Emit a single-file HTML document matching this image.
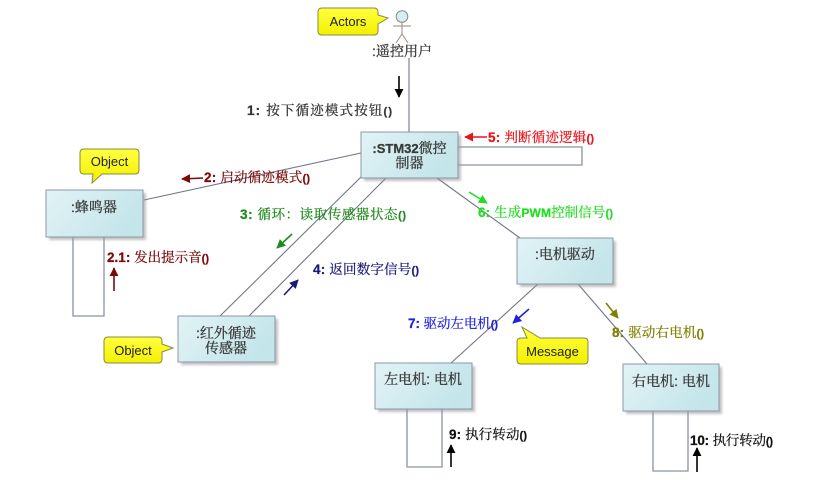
<!DOCTYPE html>
<html><head><meta charset="utf-8"><style>
html,body{margin:0;padding:0;background:#fff;}
svg{display:block;}
text{font-family:"Liberation Sans","Noto Serif CJK SC","Noto Serif SC","Source Han Serif SC","AR PL UMing CN","Noto Sans CJK SC",serif;}
.bx{font-size:14px;fill:#3a3a3a;stroke:#3a3a3a;stroke-width:0.3;}
.lb{font-size:13.5px;stroke-width:0.25;}
.co{font-family:"Liberation Sans",sans-serif;font-size:13px;fill:#222;}
</style></head><body>
<svg width="828" height="484" viewBox="0 0 828 484" xmlns="http://www.w3.org/2000/svg">
<defs>
<linearGradient id="g" x1="0" y1="0" x2="1" y2="0.4">
<stop offset="0" stop-color="#e2f3f6"/><stop offset="1" stop-color="#c4e5ea"/>
</linearGradient>
<linearGradient id="y" x1="0" y1="0" x2="0" y2="1">
<stop offset="0" stop-color="#ffff40"/><stop offset="1" stop-color="#f4f000"/>
</linearGradient>
<filter id="sh" x="-10%" y="-10%" width="130%" height="140%"><feGaussianBlur stdDeviation="1.2"/></filter>
<marker id="mk" viewBox="0 0 10 10" refX="9" refY="5" markerUnits="userSpaceOnUse" markerWidth="9" markerHeight="10" orient="auto"><path d="M0,0L10,5L0,10z" fill="#000"/></marker>
<marker id="mr" viewBox="0 0 10 10" refX="9" refY="5" markerUnits="userSpaceOnUse" markerWidth="9" markerHeight="10" orient="auto"><path d="M0,0L10,5L0,10z" fill="#e8141c"/></marker>
<marker id="md" viewBox="0 0 10 10" refX="9" refY="5" markerUnits="userSpaceOnUse" markerWidth="9" markerHeight="10" orient="auto"><path d="M0,0L10,5L0,10z" fill="#7a0a0a"/></marker>
<marker id="mg" viewBox="0 0 10 10" refX="9" refY="5" markerUnits="userSpaceOnUse" markerWidth="9" markerHeight="10" orient="auto"><path d="M0,0L10,5L0,10z" fill="#1f8a1f"/></marker>
<marker id="mn" viewBox="0 0 10 10" refX="9" refY="5" markerUnits="userSpaceOnUse" markerWidth="9" markerHeight="10" orient="auto"><path d="M0,0L10,5L0,10z" fill="#1a1a78"/></marker>
<marker id="ml" viewBox="0 0 10 10" refX="9" refY="5" markerUnits="userSpaceOnUse" markerWidth="9" markerHeight="10" orient="auto"><path d="M0,0L10,5L0,10z" fill="#22dd22"/></marker>
<marker id="mb" viewBox="0 0 10 10" refX="9" refY="5" markerUnits="userSpaceOnUse" markerWidth="9" markerHeight="10" orient="auto"><path d="M0,0L10,5L0,10z" fill="#2222dd"/></marker>
<marker id="mo" viewBox="0 0 10 10" refX="9" refY="5" markerUnits="userSpaceOnUse" markerWidth="9" markerHeight="10" orient="auto"><path d="M0,0L10,5L0,10z" fill="#808000"/></marker>
</defs>

<!-- connectors -->
<g stroke="#707688" stroke-width="1.1" fill="none">
<line x1="409" y1="58" x2="409" y2="132"/>
<line x1="144" y1="200" x2="361" y2="153"/>
<line x1="220" y1="316" x2="362" y2="176"/>
<line x1="249" y1="316" x2="386" y2="178"/>
<line x1="437" y1="178" x2="520" y2="238"/>
<line x1="538" y1="284" x2="451" y2="363"/>
<line x1="578" y1="284" x2="647" y2="364"/>
</g>
<!-- self loops -->
<g stroke="#8a92a6" stroke-width="1.3" fill="#fff">
<path d="M458,147 H582 V165 H458"/>
<path d="M73,237 V316 H104 V237"/>
<path d="M407,409 V467 H442 V409"/>
<path d="M653,411 V471 H688 V411"/>
</g>

<!-- boxes -->
<g>
<rect x="364" y="135" width="97" height="46" fill="#999" opacity="0.6" filter="url(#sh)"/>
<rect x="361" y="132" width="97" height="46" fill="url(#g)" stroke="#8c98a4"/>
<rect x="49" y="193" width="97" height="47" fill="#999" opacity="0.6" filter="url(#sh)"/>
<rect x="46" y="190" width="97" height="47" fill="url(#g)" stroke="#8c98a4"/>
<rect x="181" y="319" width="97" height="46" fill="#999" opacity="0.6" filter="url(#sh)"/>
<rect x="178" y="316" width="97" height="46" fill="url(#g)" stroke="#8c98a4"/>
<rect x="520" y="241" width="96" height="46" fill="#999" opacity="0.6" filter="url(#sh)"/>
<rect x="517" y="238" width="96" height="46" fill="url(#g)" stroke="#8c98a4"/>
<rect x="378" y="366" width="97" height="46" fill="#999" opacity="0.6" filter="url(#sh)"/>
<rect x="375" y="363" width="97" height="46" fill="url(#g)" stroke="#8c98a4"/>
<rect x="626" y="367" width="96" height="47" fill="#999" opacity="0.6" filter="url(#sh)"/>
<rect x="623" y="364" width="96" height="47" fill="url(#g)" stroke="#8c98a4"/>
</g>

<!-- box texts -->
<text class="bx" x="409.5" y="153" text-anchor="middle"><tspan font-weight="bold" font-size="13">:STM32</tspan>微控</text>
<text class="bx" x="409.5" y="168" text-anchor="middle">制器</text>
<text class="bx" x="94" y="212" text-anchor="middle">:蜂鸣器</text>
<text class="bx" x="226" y="338" text-anchor="middle">:红外循迹</text>
<text class="bx" x="226" y="353" text-anchor="middle">传感器</text>
<text class="bx" x="565" y="259" text-anchor="middle">:电机驱动</text>
<text class="bx" x="423" y="384" text-anchor="middle">左电机: 电机</text>
<text class="bx" x="671" y="386" text-anchor="middle">右电机: 电机</text>

<!-- actor -->
<g stroke="#9a8a80" stroke-width="1" fill="none">
<circle cx="402" cy="16.5" r="5.8" fill="#d6eef1" stroke="#888"/>
<line x1="402" y1="22.5" x2="402" y2="34"/>
<line x1="393" y1="26" x2="411" y2="26"/>
<line x1="402" y1="34" x2="396" y2="43"/>
<line x1="402" y1="34" x2="408" y2="43"/>
</g>
<text class="bx" x="402" y="56" text-anchor="middle" textLength="60">:遥控用户</text>

<!-- arrows -->
<g stroke-width="1.6" fill="none">
<line x1="399" y1="76" x2="399" y2="97" stroke="#000" marker-end="url(#mk)"/>
<line x1="487" y1="137" x2="465" y2="137" stroke="#e8141c" marker-end="url(#mr)"/>
<line x1="203" y1="178" x2="182" y2="179" stroke="#7a0a0a" marker-end="url(#md)"/>
<line x1="114" y1="291" x2="114" y2="268" stroke="#7a0a0a" marker-end="url(#md)"/>
<line x1="292" y1="234" x2="277" y2="248" stroke="#1f8a1f" marker-end="url(#mg)"/>
<line x1="284" y1="295" x2="298" y2="280" stroke="#1a1a78" marker-end="url(#mn)"/>
<line x1="469" y1="192" x2="487" y2="203" stroke="#22dd22" marker-end="url(#ml)"/>
<line x1="529" y1="309" x2="513" y2="323" stroke="#2222dd" marker-end="url(#mb)"/>
<line x1="606" y1="303" x2="618" y2="318" stroke="#808000" marker-end="url(#mo)"/>
<line x1="451" y1="467" x2="451" y2="445" stroke="#000" marker-end="url(#mk)"/>
<line x1="697" y1="472" x2="697" y2="448" stroke="#000" marker-end="url(#mk)"/>
</g>

<!-- message labels -->
<text class="lb" x="247" y="115" fill="#333" stroke="#333" textLength="145"><tspan font-weight="bold">1:</tspan> 按下循迹模式按钮<tspan font-weight="bold" font-size="11">()</tspan></text>
<text class="lb" x="488" y="142" fill="#e8141c" stroke="#e8141c" textLength="106"><tspan font-weight="bold">5:</tspan> 判断循迹逻辑<tspan font-weight="bold" font-size="11">()</tspan></text>
<text class="lb" x="204" y="182" fill="#7a0a0a" stroke="#7a0a0a" textLength="106"><tspan font-weight="bold">2:</tspan> 启动循迹模式<tspan font-weight="bold" font-size="11">()</tspan></text>
<text class="lb" x="107" y="262" fill="#7a0a0a" stroke="#7a0a0a" textLength="102"><tspan font-weight="bold">2.1:</tspan> 发出提示音<tspan font-weight="bold" font-size="11">()</tspan></text>
<text class="lb" x="240" y="219" fill="#1f8a1f" stroke="#1f8a1f" textLength="166"><tspan font-weight="bold">3:</tspan> 循环：读取传感器状态<tspan font-weight="bold" font-size="11">()</tspan></text>
<text class="lb" x="313" y="274" fill="#1a1a78" stroke="#1a1a78" textLength="106"><tspan font-weight="bold">4:</tspan> 返回数字信号<tspan font-weight="bold" font-size="11">()</tspan></text>
<text class="lb" x="478" y="217" fill="#22dd22" stroke="#22dd22" textLength="135"><tspan font-weight="bold">6:</tspan> 生成<tspan font-weight="bold" font-size="12">PWM</tspan>控制信号<tspan font-weight="bold" font-size="11">()</tspan></text>
<text class="lb" x="408" y="328" fill="#2222dd" stroke="#2222dd" textLength="90"><tspan font-weight="bold">7:</tspan> 驱动左电机<tspan font-weight="bold" font-size="11">()</tspan></text>
<text class="lb" x="612" y="337" fill="#808000" stroke="#808000" textLength="92"><tspan font-weight="bold">8:</tspan> 驱动右电机<tspan font-weight="bold" font-size="11">()</tspan></text>
<text class="lb" x="449" y="439" fill="#111" stroke="#111" textLength="78"><tspan font-weight="bold">9:</tspan> 执行转动<tspan font-weight="bold" font-size="11">()</tspan></text>
<text class="lb" x="690" y="445" fill="#111" stroke="#111" textLength="83"><tspan font-weight="bold">10:</tspan> 执行转动<tspan font-weight="bold" font-size="11">()</tspan></text>

<!-- callouts -->
<g stroke="#8a8a40" stroke-width="1" fill="url(#y)">
<path d="M322,8 H374 Q378,8 378,12 V15 L388,18 L378,24 V31 Q378,35 374,35 H322 Q318,35 318,31 V12 Q318,8 322,8 Z"/>
<path d="M84,149 H135 Q139,149 139,153 V170 Q139,174 135,174 H102 L92,183 L93,174 H84 Q80,174 80,170 V153 Q80,149 84,149 Z"/>
<path d="M108,337 H158 Q162,337 162,341 V344 L173,348 L162,352 V359 Q162,363 158,363 H108 Q104,363 104,359 V341 Q104,337 108,337 Z"/>
<path d="M521,338 H527 L522,327 L540,338 H584 Q588,338 588,342 V360 Q588,364 584,364 H521 Q517,364 517,360 V342 Q517,338 521,338 Z"/>
</g>
<text class="co" x="348" y="26" text-anchor="middle">Actors</text>
<text class="co" x="109.5" y="166" text-anchor="middle">Object</text>
<text class="co" x="133" y="355" text-anchor="middle">Object</text>
<text class="co" x="552.5" y="356" text-anchor="middle">Message</text>
</svg>
</body></html>
